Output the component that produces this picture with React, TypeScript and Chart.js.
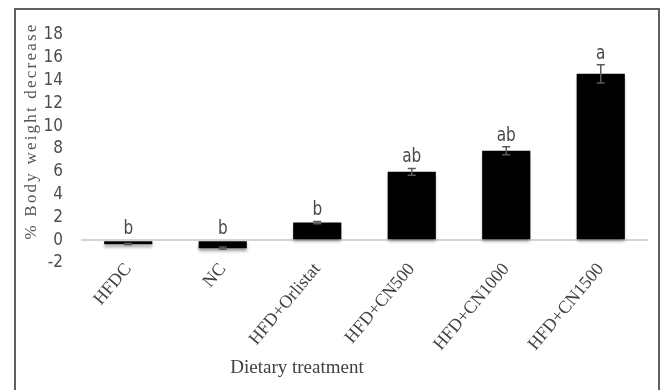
import React, { useEffect, useRef } from "react";
import { Chart, registerables } from "chart.js";

Chart.register(...registerables);

const categories = ["HFDC", "NC", "HFD+Orlistat", "HFD+CN500", "HFD+CN1000", "HFD+CN1500"];
const values = [-0.35, -0.7, 1.55, 6.0, 7.85, 14.6];
const errors = [0.05, 0.1, 0.1, 0.3, 0.35, 0.8];
const letters = ["b", "b", "b", "ab", "ab", "a"];
const yTitle = "% Body weight decrease";
const xTitle = "Dietary treatment";

const NARROW = "'Liberation Sans Narrow', 'DejaVu Sans Condensed', 'Noto Sans', sans-serif";
const SERIF = "'Liberation Serif', 'DejaVu Serif', serif";

const framePlugin = {
  id: "frame",
  beforeDraw(chart: any) {
    const ctx = chart.ctx;
    ctx.save();
    ctx.fillStyle = "#ffffff";
    ctx.fillRect(0, 0, chart.width, chart.height);
    ctx.strokeStyle = "#606060";
    ctx.lineWidth = 2;
    ctx.strokeRect(15, 9, 644, 400);
    ctx.restore();
  },
};

const shadowPlugin = {
  id: "barShadow",
  beforeDatasetsDraw(chart: any) {
    const ctx = chart.ctx;
    ctx.save();
    ctx.shadowColor = "rgba(0,0,0,0.35)";
    ctx.shadowOffsetY = 3;
    ctx.shadowOffsetX = 0;
    ctx.shadowBlur = 3;
  },
  afterDatasetsDraw(chart: any) {
    chart.ctx.restore();
  },
};

const annotPlugin = {
  id: "annot",
  afterDatasetsDraw(chart: any) {
    const ctx = chart.ctx;
    const meta = chart.getDatasetMeta(0);
    const y = chart.scales.y;
    ctx.save();
    meta.data.forEach((bar: any, i: number) => {
      const v = values[i];
      const e = errors[i];
      const x = bar.x;
      const yt = y.getPixelForValue(v + e);
      const yb = y.getPixelForValue(v - e);
      ctx.strokeStyle = "#5a5a5a";
      ctx.lineWidth = 1.5;
      ctx.beginPath();
      ctx.moveTo(x, yt);
      ctx.lineTo(x, yb);
      ctx.moveTo(x - 4, yt);
      ctx.lineTo(x + 4, yt);
      ctx.moveTo(x - 4, yb);
      ctx.lineTo(x + 4, yb);
      ctx.stroke();
      const top = y.getPixelForValue(Math.max(0, v + e));
      ctx.fillStyle = "#484848";
      ctx.font = `20px ${NARROW}`;
      ctx.textAlign = "center";
      ctx.textBaseline = "alphabetic";
      ctx.save();
      ctx.translate(x, top - 6);
      ctx.scale(0.85, 1);
      ctx.fillText(letters[i], 0, 0);
      ctx.restore();
    });
    ctx.restore();
  },
  afterDraw(chart: any) {
    const ctx = chart.ctx;
    ctx.save();
    ctx.fillStyle = "#555555";
    ctx.font = `17px ${SERIF}`;
    (ctx as any).letterSpacing = "2.2px";
    ctx.translate(32, 131);
    ctx.rotate(-Math.PI / 2);
    ctx.textAlign = "center";
    ctx.textBaseline = "middle";
    ctx.fillText(yTitle, 0, 0);
    ctx.restore();
    ctx.save();
    ctx.fillStyle = "#404040";
    ctx.font = `19px ${SERIF}`;
    ctx.textAlign = "center";
    ctx.textBaseline = "middle";
    ctx.fillText(xTitle, 297, 368);
    ctx.restore();
  },
};

export default function App() {
  const ref = useRef<HTMLCanvasElement | null>(null);
  useEffect(() => {
    if (!ref.current) return;
    const chart = new Chart(ref.current, {
      type: "bar",
      data: {
        labels: categories,
        datasets: [
          {
            data: values,
            backgroundColor: "#000000",
            borderWidth: 0,
            barPercentage: 0.51,
            categoryPercentage: 1,
          },
        ],
      },
      options: {
        responsive: false,
        animation: false,
        layout: { padding: { left: 0, right: 17, top: 35, bottom: 0 } },
        plugins: { legend: { display: false }, tooltip: { enabled: false }, title: { display: false } },
        scales: {
          x: {
            grid: { display: false, drawTicks: false },
            border: { display: false },
            ticks: {
              minRotation: 50,
              maxRotation: 50,
              padding: -4,
              color: "#404040",
              font: { family: SERIF, size: 18 },
              autoSkip: false,
            },
            afterFit: (s: any) => {
              s.height = 127;
            },
          },
          y: {
            min: -2,
            max: 18,
            ticks: {
              stepSize: 2,
              padding: 18,
              autoSkip: false,
              color: "#4d4d4d",
              font: { family: NARROW, size: 17 },
            },
            grid: {
              drawTicks: false,
              color: (c: any) => (c.tick && c.tick.value === 0 ? "#d4d4d4" : "rgba(0,0,0,0)"),
              lineWidth: 2,
            },
            border: { display: false },
            afterFit: (s: any) => {
              s.width = 81;
            },
          },
        },
      },
      plugins: [framePlugin, shadowPlugin, annotPlugin],
    });
    return () => chart.destroy();
  }, []);
  return (
    <div style={{ position: "absolute", left: 0, top: 0, width: 665, height: 390 }}>
      <canvas ref={ref} width={665} height={390} style={{ width: 665, height: 390, display: "block" }} />
    </div>
  );
}
